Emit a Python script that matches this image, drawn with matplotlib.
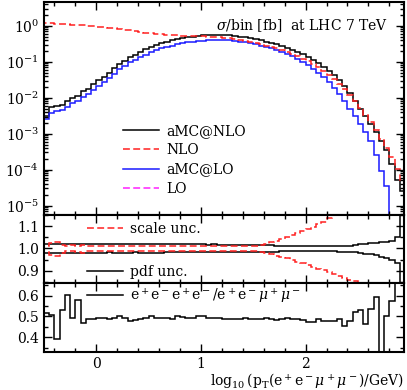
import numpy as np
import matplotlib
matplotlib.use('Agg')
import matplotlib.pyplot as plt
from matplotlib.ticker import MultipleLocator, LogLocator, NullFormatter, FixedLocator

plt.rcParams['font.family'] = 'DejaVu Serif'
plt.rcParams['mathtext.fontset'] = 'dejavuserif'
plt.rcParams['font.size'] = 10

# bins in log10(pT/GeV), 0.05 wide, from -0.5 to 2.95
edges = np.round(np.arange(-0.5, 2.951, 0.05), 2)

# log10 of sigma/bin [fb]
amcnlo_log = [-2.50, -2.27, -2.22, -2.20, -2.10, -2.00, -1.95, -1.82, -1.75, -1.62,
              -1.52, -1.42, -1.30, -1.18, -1.05, -0.97, -0.88, -0.80, -0.72, -0.66,
              -0.60, -0.54, -0.49, -0.45, -0.41, -0.37, -0.34, -0.32, -0.30, -0.28,
              -0.27, -0.26, -0.26, -0.26, -0.26, -0.27, -0.28, -0.30, -0.32, -0.35,
              -0.38, -0.41, -0.44, -0.48, -0.52, -0.57, -0.62, -0.67, -0.73, -0.79,
              -0.87, -0.95, -1.04, -1.14, -1.25, -1.38, -1.52, -1.68, -1.87, -2.08,
              -2.30, -2.52, -2.73, -2.95, -3.20, -3.45, -3.85, -4.30, -4.60]
nlo_log = [0.08, 0.07, 0.06, 0.05, 0.04, 0.03, 0.02, 0.01, 0.00, -0.01,
           -0.03, -0.04, -0.06, -0.07, -0.09, -0.11, -0.13, -0.15, -0.17, -0.19,
           -0.21, -0.22, -0.24, -0.25, -0.26, -0.27, -0.28, -0.28, -0.29, -0.29,
           -0.29, -0.30, -0.31, -0.32, -0.33, -0.35, -0.37, -0.39, -0.42, -0.45,
           -0.48, -0.51, -0.55, -0.59, -0.63, -0.68, -0.73, -0.79, -0.85, -0.92,
           -0.99, -1.07, -1.16, -1.26, -1.37, -1.49, -1.62, -1.77, -1.93, -2.10,
           -2.28, -2.48, -2.68, -2.90, -3.15, -3.40, -3.65, -3.98, -4.30]
# aMC@LO is empty above 2.8
amclo_log = [-2.60, -2.43, -2.38, -2.35, -2.25, -2.15, -2.10, -1.98, -1.90, -1.78,
             -1.68, -1.57, -1.45, -1.33, -1.20, -1.11, -1.02, -0.94, -0.86, -0.80,
             -0.74, -0.68, -0.63, -0.59, -0.55, -0.51, -0.48, -0.46, -0.44, -0.43,
             -0.42, -0.41, -0.40, -0.40, -0.40, -0.41, -0.42, -0.44, -0.46, -0.49,
             -0.52, -0.55, -0.59, -0.63, -0.68, -0.73, -0.79, -0.85, -0.92, -1.00,
             -1.09, -1.19, -1.30, -1.43, -1.57, -1.72, -1.90, -2.08, -2.30, -2.50,
             -2.72, -2.95, -3.20, -3.60, -4.05, -4.45]

# ratios to central aMC@NLO
scale_up = [1.012, 1.025, 1.030, 1.015, 1.012, 1.014, 1.012, 1.016, 1.012, 1.013,
            1.012, 1.011, 1.012, 1.013, 1.012, 1.011, 1.012, 1.013, 1.012, 1.012,
            1.011, 1.012, 1.013, 1.012, 1.011, 1.012, 1.012, 1.013, 1.012, 1.011,
            1.012, 1.012, 1.011, 1.012, 1.013, 1.012, 1.012, 1.011, 1.012, 1.012,
            1.013, 1.016, 1.020, 1.027, 1.035, 1.044, 1.052, 1.060, 1.068, 1.077,
            1.087, 1.098, 1.110, 1.120, 1.135, 1.150, 1.170, 1.190, 1.210, 1.240,
            1.270, 1.300, 1.330, 1.360, 1.390, 1.420, 1.450, 1.480, 1.500]
scale_dn = [0.985, 0.972, 0.965, 0.980, 0.988, 0.988, 0.985, 0.978, 0.988, 0.987,
            0.988, 0.989, 0.988, 0.987, 0.988, 0.989, 0.988, 0.987, 0.988, 0.988,
            0.989, 0.988, 0.987, 0.988, 0.989, 0.988, 0.988, 0.987, 0.988, 0.989,
            0.988, 0.988, 0.989, 0.988, 0.987, 0.988, 0.988, 0.989, 0.988, 0.988,
            0.987, 0.983, 0.978, 0.973, 0.967, 0.962, 0.955, 0.947, 0.940, 0.933,
            0.925, 0.917, 0.910, 0.902, 0.894, 0.886, 0.877, 0.868, 0.860, 0.852,
            0.843, 0.830, 0.815, 0.800, 0.785, 0.770, 0.750, 0.730, 0.710]
pdf_up = [1.019, 1.019, 1.019, 1.020, 1.019, 1.021, 1.021, 1.020, 1.019, 1.019,
          1.019, 1.019, 1.018, 1.019, 1.019, 1.019, 1.019, 1.018, 1.019, 1.020,
          1.019, 1.019, 1.019, 1.018, 1.018, 1.018, 1.019, 1.018, 1.018, 1.018,
          1.018, 1.017, 1.018, 1.017, 1.017, 1.016, 1.016, 1.016, 1.015, 1.015,
          1.015, 1.014, 1.014, 1.014, 1.013, 1.013, 1.012, 1.012, 1.012, 1.012,
          1.012, 1.012, 1.011, 1.011, 1.011, 1.012, 1.012, 1.012, 1.013, 1.015,
          1.018, 1.020, 1.023, 1.025, 1.028, 1.030, 1.035, 1.053, 1.300]
pdf_dn = [0.981, 0.981, 0.981, 0.980, 0.981, 0.980, 0.980, 0.981, 0.981, 0.981,
          0.981, 0.981, 0.982, 0.981, 0.981, 0.981, 0.981, 0.982, 0.981, 0.981,
          0.981, 0.981, 0.981, 0.982, 0.982, 0.982, 0.982, 0.982, 0.982, 0.983,
          0.983, 0.983, 0.983, 0.984, 0.984, 0.984, 0.984, 0.985, 0.985, 0.985,
          0.985, 0.986, 0.986, 0.986, 0.986, 0.987, 0.987, 0.987, 0.987, 0.987,
          0.987, 0.987, 0.987, 0.987, 0.987, 0.987, 0.986, 0.986, 0.985, 0.983,
          0.980, 0.977, 0.975, 0.970, 0.962, 0.955, 0.948, 0.934, 0.700]
# e+e-e+e- / e+e-mu+mu-
ratio_4e = [0.515, 0.505, 0.390, 0.530, 0.605, 0.495, 0.580, 0.468, 0.490, 0.490,
            0.495, 0.493, 0.489, 0.495, 0.500, 0.492, 0.477, 0.483, 0.490, 0.495,
            0.500, 0.491, 0.492, 0.495, 0.490, 0.502, 0.497, 0.492, 0.495, 0.500,
            0.502, 0.495, 0.491, 0.493, 0.490, 0.489, 0.486, 0.489, 0.491, 0.487,
            0.490, 0.488, 0.492, 0.487, 0.483, 0.490, 0.495, 0.488, 0.486, 0.484,
            0.475, 0.475, 0.488, 0.480, 0.480, 0.480, 0.488, 0.456, 0.478, 0.521,
            0.529, 0.465, 0.537, 0.592, 0.000, 0.500, 0.576, 0.900, 0.900]

fig = plt.figure(figsize=(4.07, 3.90), dpi=100)
x0, w = 44 / 407, 360 / 407
ax1 = fig.add_axes([x0, 1 - 215 / 390, w, 213 / 390])
ax2 = fig.add_axes([x0, 1 - 283 / 390, w, 68 / 390])
ax3 = fig.add_axes([x0, 1 - 352 / 390, w, 69 / 390])

dash = (0, (4.5, 2.2))
lw = 1.1

# main panel
ax1.stairs(10 ** np.array(amcnlo_log), edges, baseline=1e-8, color='black', lw=lw)
ax1.stairs(10 ** np.array(amclo_log), edges[:len(amclo_log) + 1], baseline=1e-8, color='#1a1aff', lw=lw)
ax1.stairs(10 ** np.array(nlo_log), edges, baseline=1e-8, color='#ff2020', lw=lw, linestyle=dash)
h_nlo, = ax1.plot([], [], color='#ff2020', lw=lw, linestyle=dash)
h_amclo, = ax1.plot([], [], color='#1a1aff', lw=lw)
h_amcnlo, = ax1.plot([], [], color='black', lw=lw)
h_lo, = ax1.plot([], [], color='#ff20ff', lw=lw, linestyle=dash)
ax1.set_yscale('log')
ax1.set_ylim(10 ** -5.26, 10 ** 0.66)
ax1.yaxis.set_major_locator(LogLocator(base=10, numticks=20))
ax1.yaxis.set_minor_locator(LogLocator(base=10, subs=np.arange(2, 10), numticks=20))
ax1.yaxis.set_minor_formatter(NullFormatter())
ax1.legend([h_amcnlo, h_nlo, h_amclo, h_lo], ['aMC@NLO', 'NLO', 'aMC@LO', 'LO'],
           loc='upper left', bbox_to_anchor=(0.2, 0.46), frameon=False,
           handlelength=2.6, handletextpad=0.5, labelspacing=0.38, borderpad=0)
ax1.text(0.955, 0.89, r'$\sigma$/bin [fb]  at LHC 7 TeV', transform=ax1.transAxes,
         ha='right', va='center')

# uncertainty panel
ax2.stairs(pdf_up, edges, color='black', lw=lw)
ax2.stairs(pdf_dn, edges, color='black', lw=lw)
ax2.stairs(scale_up, edges, baseline=2.0, color='#ff2020', lw=lw, linestyle=dash)
ax2.stairs(scale_dn, edges, baseline=0.0, color='#ff2020', lw=lw, linestyle=dash)
ax2.set_ylim(0.845, 1.15)
ax2.yaxis.set_major_locator(FixedLocator([0.9, 1.0, 1.1]))
ax2.yaxis.set_minor_locator(MultipleLocator(0.05))
ax2.yaxis.set_major_formatter(plt.FormatStrFormatter('%.1f'))
h_scale, = ax2.plot([], [], color='#ff2020', lw=lw, linestyle=dash)
h_pdf, = ax2.plot([], [], color='black', lw=lw)
leg = ax2.legend([h_scale], ['scale unc.'], loc='center left', bbox_to_anchor=(0.1, 0.8),
                 frameon=False, handlelength=2.6, handletextpad=0.5, borderpad=0)
ax2.add_artist(leg)
ax2.legend([h_pdf], ['pdf unc.'], loc='center left', bbox_to_anchor=(0.1, 0.16),
           frameon=False, handlelength=2.6, handletextpad=0.5, borderpad=0)

# channel ratio panel
ax3.stairs(ratio_4e, edges, baseline=None, color='black', lw=lw)
ax3.set_ylim(0.33, 0.66)
ax3.yaxis.set_major_locator(FixedLocator([0.4, 0.5, 0.6]))
ax3.yaxis.set_minor_locator(MultipleLocator(0.05))
ax3.yaxis.set_major_formatter(plt.FormatStrFormatter('%.1f'))
h_r, = ax3.plot([], [], color='black', lw=lw)
ax3.legend([h_r], [r'$\mathrm{e^+e^-e^+e^-/e^+e^-}\mu^+\mu^-$'], loc='center left',
           bbox_to_anchor=(0.1, 0.82), frameon=False, handlelength=2.6,
           handletextpad=0.5, borderpad=0)
ax3.set_xlabel(r'$\log_{10}(\mathrm{p_T}(\mathrm{e^+e^-}\mu^+\mu^-)/\mathrm{GeV})$',
               loc='right', labelpad=0.5)

for ax in (ax1, ax2, ax3):
    ax.set_xlim(-0.5, 2.94)
    ax.xaxis.set_major_locator(FixedLocator([0, 1, 2]))
    ax.xaxis.set_minor_locator(MultipleLocator(0.2))
    ax.tick_params(which='both', direction='in', top=True, right=True, width=1.0)
    ax.tick_params(which='major', length=6)
    ax.tick_params(which='minor', length=3)
    for s in ax.spines.values():
        s.set_linewidth(1.5)
ax1.tick_params(labelbottom=False)
ax2.tick_params(labelbottom=False)

fig.savefig('out.png', dpi=100)
